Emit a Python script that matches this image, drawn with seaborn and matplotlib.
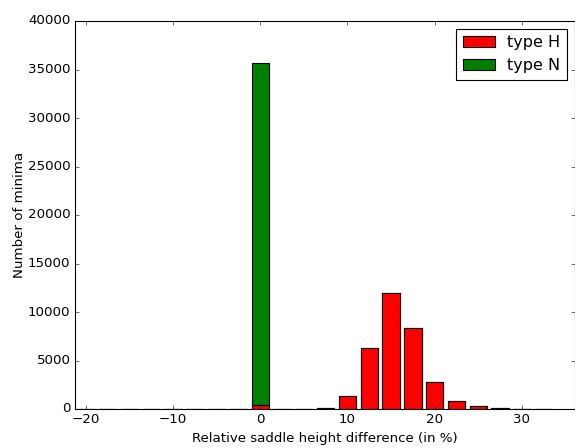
import matplotlib
matplotlib.use("Agg")
import matplotlib.pyplot as plt
import seaborn as sns
import numpy as np
import pandas as pd
from matplotlib.patches import Patch

centers = [-20, -17.5, -15, -12.5, -10, -7.5, -5, -2.5, 0, 2.5, 5, 7.5,
           10, 12.5, 15, 17.5, 20, 22.5, 25, 27.5, 30, 32.5]
type_h = [5, 5, 5, 5, 5, 5, 5, 5, 420, 30, 20, 90,
          1370, 6290, 11990, 8380, 2815, 790, 310, 100, 25, 20]
type_n = [0, 0, 0, 0, 0, 0, 0, 0, 35220, 0, 0, 0,
          0, 0, 0, 0, 0, 0, 0, 0, 0, 0]
labels = ["type H", "type N"]
colors = ["red", "green"]

plt.style.use("classic")
plt.rcParams["font.family"] = ["DejaVu Sans"]

df = pd.DataFrame({"x": centers, "h": type_h, "n": type_n})
df["total"] = df["h"] + df["n"]

fig = plt.figure(figsize=(575 / 80, 448 / 80), dpi=80)
ax = fig.add_axes([75 / 575, 1 - 409 / 448, 500 / 575, 388 / 448])

sns.barplot(data=df, x="x", y="total", native_scale=True, width=0.8,
            color=colors[1], saturation=1, edgecolor="black", linewidth=1,
            ax=ax, errorbar=None)
sns.barplot(data=df, x="x", y="h", native_scale=True, width=0.8,
            color=colors[0], saturation=1, edgecolor="black", linewidth=1,
            ax=ax, errorbar=None)

ax.set_xlim(-21.25, 36.1)
ax.set_ylim(0, 40000)
ax.set_xticks([-20, -10, 0, 10, 20, 30])
ax.set_yticks(np.arange(0, 40001, 5000))
ax.set_xlabel("Relative saddle height difference (in %)", fontsize=12)
ax.set_ylabel("Number of minima", fontsize=12, labelpad=2)
ax.tick_params(labelsize=12)

handles = [Patch(facecolor=c, edgecolor="black", label=l) for c, l in zip(colors, labels)]
ax.legend(handles=handles, loc="upper right", fontsize=14.4)

fig.savefig("out.png", dpi=80)
